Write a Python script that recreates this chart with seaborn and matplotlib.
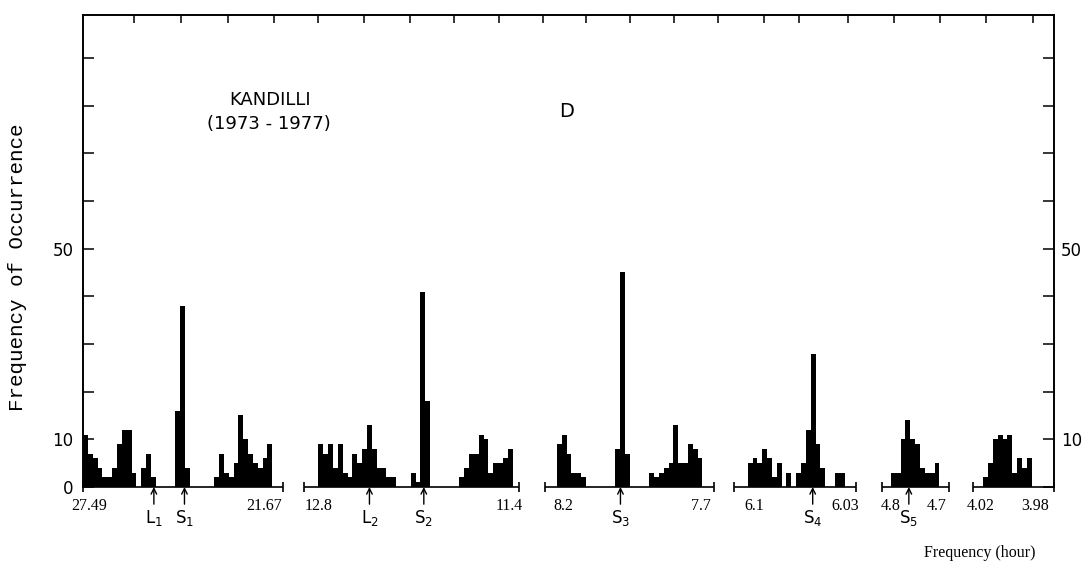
import numpy as np
import pandas as pd
import matplotlib
matplotlib.use("Agg")
import matplotlib.pyplot as plt
import seaborn as sns

# counts per frequency bin, one list per spectral window
counts_w1 = [11, 7, 6, 4, 2, 2, 4, 9, 12, 12, 3, 0, 4, 7, 2, 0, 0, 0, 0, 16,
             38, 4, 0, 0, 0, 0, 0, 2, 7, 3, 2, 5, 15, 10, 7, 5, 4, 6, 9]
counts_w2 = [9, 7, 9, 4, 9, 3, 2, 7, 5, 8, 13, 8, 4, 4, 2, 2, 0, 0, 0, 3,
             1, 41, 18, 0, 0, 0, 0, 0, 0, 2, 4, 7, 7, 11, 10, 3, 5, 5, 6, 8]
counts_w3 = [9, 11, 7, 3, 3, 2, 0, 0, 0, 0, 0, 0, 8, 45, 7, 0, 0, 0, 0, 3,
             2, 3, 4, 5, 13, 5, 5, 9, 8, 6]
counts_w4 = [5, 6, 5, 8, 6, 2, 5, 0, 3, 0, 3, 5, 12, 28, 9, 4, 0, 0, 3, 3]
counts_w5 = [3, 3, 10, 14, 10, 9, 4, 3, 3, 5]
counts_w6 = [2, 5, 10, 11, 10, 11, 3, 6, 4, 6]

# period (hour) labels at the edges of each window
edge_labels = ["27.49", "21.67", "12.8", "11.4", "8.2", "7.7",
               "6.1", "6.03", "4.8", "4.7", "4.02", "3.98"]

# tidal lines marked below the axis
line_names = ["L$_1$", "S$_1$", "L$_2$", "S$_2$", "S$_3$", "S$_4$", "S$_5$"]

windows = [counts_w1, counts_w2, counts_w3, counts_w4, counts_w5, counts_w6]

# ---- layout (x in bin units, 0..200 across the frame) ----
win_start = [0, 48.5, 97.6, 136.9, 166.4, 185.4]
seg_extent = [(0, 41.2), (45.5, 89.8), (95.2, 130.0), (134.0, 159.2),
              (164.6, 178.4), (183.3, 200)]
label_x = [1.2, 37.3, 48.6, 87.9, 98.9, 127.3, 138.2, 157.0, 166.4, 175.9, 185.0, 196.1]
arrow_x = [14.6, 20.9, 59.0, 70.2, 110.7, 150.3, 170.1]
# top frame ticks (pixel positions measured on the original, converted below)
top_tick_px = [133.3, 180, 226.7, 272.7, 317.3, 363.3, 408.7, 453.3, 497.7, 541.7,
               585, 628.7, 673.3, 717.3, 762.7, 798.3, 846.7, 893.3, 939.3, 985, 1031.7]

sns.set_style("ticks")
plt.rcParams["font.family"] = ["DejaVu Sans"]
for k in ["text.color", "axes.labelcolor", "xtick.color", "ytick.color", "axes.edgecolor"]:
    plt.rcParams[k] = "black"

W, H = 1084, 562
fig = plt.figure(figsize=(W / 100, H / 100), dpi=100)
ax = fig.add_axes([83 / W, 1 - 487 / H, (1054 - 83) / W, (487 - 15) / H])

for start, counts in zip(win_start, windows):
    n = len(counts)
    df = pd.DataFrame({"bin": start + 0.5 + np.arange(n), "count": counts})
    sns.histplot(data=df, x="bin", weights="count", binwidth=1,
                 binrange=(start, start + n), element="step", fill=True,
                 color="black", alpha=1, linewidth=0, ax=ax)

ax.set_xlim(0, 200)
ax.set_ylim(0, 99)
ax.set_xlabel("")
ax.set_ylabel("")

# baseline pieces with end bars
for a, b in seg_extent:
    ax.plot([a, b], [0, 0], color="black", lw=1.2, marker="|", ms=7, mew=1.2,
            clip_on=False, solid_capstyle="butt")

for x, s in zip(label_x, edge_labels):
    ax.text(x, -2.4, s, ha="center", va="top", family="Liberation Serif", size=11.5)

for x, s in zip(arrow_x, line_names):
    ax.annotate("", xy=(x, 0), xytext=(x, -3.6), annotation_clip=False,
                arrowprops=dict(arrowstyle="->", lw=1, color="black",
                                shrinkA=0, shrinkB=0))
    ax.text(x, -4.4, s, ha="center", va="top", size=12)

# axes frame and ticks
yt = np.arange(0, 100, 10)
ax.set_yticks(yt)
ax.set_yticklabels(["0", "10", "", "", "", "50", "", "", "", ""])
ax.tick_params(axis="y", direction="in", length=8, width=1.1, labelsize=12, pad=7)
ax.set_xticks([(p - 82) / 4.855 for p in top_tick_px])
ax.tick_params(axis="x", bottom=False, top=True, labelbottom=False, labeltop=False,
               direction="in", length=6, width=1.1)
ax.spines["bottom"].set_visible(False)
for side in ["left", "top", "right"]:
    ax.spines[side].set_linewidth(1.2)

ax2 = ax.twinx()
ax2.set_ylim(0, 99)
ax2.set_yticks(yt)
ax2.set_yticklabels(["", "10", "", "", "", "50", "", "", "", ""])
ax2.tick_params(axis="y", direction="in", length=8, width=1.1, labelsize=12, pad=5)
ax2.tick_params(axis="x", which="both", bottom=False, top=False,
                labelbottom=False, labeltop=False)
ax2.spines["bottom"].set_visible(False)
for side in ["left", "top", "right"]:
    ax2.spines[side].set_linewidth(1.2)

ax.text(38.5, 81.2, "KANDILLI", ha="center", va="center", size=13)
ax.text(38.3, 76.2, "(1973 - 1977)", ha="center", va="center", size=13)
ax.text(99.5, 78.7, "D", ha="center", va="center", size=14)

fig.text(18 / W, 1 - 267 / H, "Frequency of Occurrence", rotation=90,
         ha="center", va="center", family="Liberation Mono", size=15)
fig.text(980 / W, 1 - 553 / H, "Frequency (hour)", ha="center", va="center",
         family="Liberation Serif", size=11.5)

fig.savefig("out.png", dpi=100)
